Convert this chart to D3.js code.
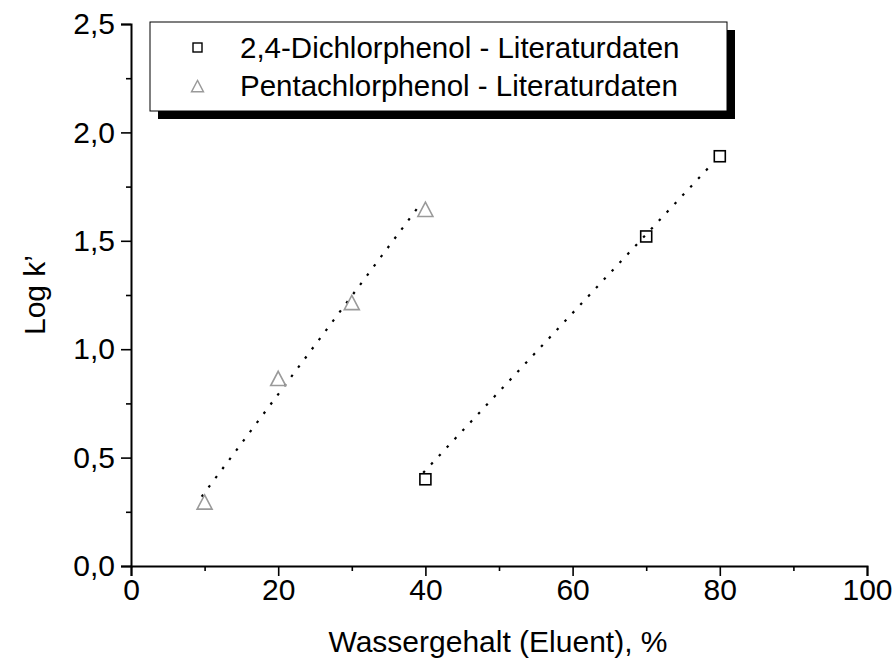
<!DOCTYPE html>
<html>
<head>
<meta charset="utf-8">
<script src="https://cdn.jsdelivr.net/npm/d3@7"></script>
<style>
  html, body { margin: 0; padding: 0; background: #fff; }
  svg { display: block; font-family: "Liberation Sans", Arial, sans-serif; }
</style>
</head>
<body>
<svg id="chart" width="892" height="658"></svg>
<script>
// Retention data: water content of the eluent (%) vs. log k'
const dichlorX = [40, 70, 80];
const dichlorY = [0.40, 1.52, 1.89];
const pentaX = [10, 20, 30, 40];
const pentaY = [0.29, 0.86, 1.21, 1.64];

// Dotted regression lines (start / end points)
const dichlorFitX = [39.7, 79.1];
const dichlorFitY = [0.43, 1.86];
const pentaFitX = [9.6, 38.9];
const pentaFitY = [0.32, 1.65];

const legendLabels = ["2,4-Dichlorphenol - Literaturdaten", "Pentachlorphenol - Literaturdaten"];
const xTicks = [0, 20, 40, 60, 80, 100];
const xMinorTicks = [10, 30, 50, 70, 90];
const yTicks = [0, 0.5, 1.0, 1.5, 2.0, 2.5];
const yMinorTicks = [0.25, 0.75, 1.25, 1.75, 2.25];

const svg = d3.select("#chart");
const plot = { left: 131, right: 867, top: 24, bottom: 566 };
const FONT = "'Liberation Sans', Arial, sans-serif";

const x = d3.scaleLinear().domain([0, 100]).range([plot.left, plot.right]);
const y = d3.scaleLinear().domain([0, 2.5]).range([plot.bottom, plot.top]);
const fmt = d => d3.format(".1f")(d).replace(".", ",");

// Axes: major ticks with labels, minor ticks without
const xAxis = svg.append("g").attr("transform", `translate(0,${plot.bottom})`)
  .call(d3.axisBottom(x).tickValues(xTicks).tickSize(10).tickPadding(3).tickFormat(d3.format("d")));
const xMinor = svg.append("g").attr("transform", `translate(0,${plot.bottom})`)
  .call(d3.axisBottom(x).tickValues(xMinorTicks).tickSize(5).tickFormat(""));
const yAxis = svg.append("g").attr("transform", `translate(${plot.left},0)`)
  .call(d3.axisLeft(y).tickValues(yTicks).tickSize(10).tickPadding(6).tickFormat(fmt));
const yMinor = svg.append("g").attr("transform", `translate(${plot.left},0)`)
  .call(d3.axisLeft(y).tickValues(yMinorTicks).tickSize(5).tickFormat(""));

[xAxis, xMinor, yAxis, yMinor].forEach(g => {
  g.select(".domain").attr("stroke", "#000").attr("stroke-width", 2);
  g.selectAll(".tick line").attr("stroke", "#000").attr("stroke-width", 1.6);
  g.selectAll(".tick text").attr("fill", "#000").style("font-size", "30px").style("font-family", FONT);
});
xMinor.select(".domain").remove();
yMinor.select(".domain").remove();

// Axis titles
svg.append("text").attr("x", 498).attr("y", 652).attr("text-anchor", "middle")
  .style("font-size", "30px").style("font-family", FONT).text("Wassergehalt (Eluent), %");
svg.append("text").attr("transform", "translate(45,295) rotate(-90)").attr("text-anchor", "middle")
  .style("font-size", "30px").style("font-family", FONT).text("Log k’");

// Dotted fit lines
const line = d3.line().x(d => x(d[0])).y(d => y(d[1]));
[[dichlorFitX, dichlorFitY], [pentaFitX, pentaFitY]].forEach(([fx, fy]) => {
  svg.append("path").datum(fx.map((v, i) => [v, fy[i]]))
    .attr("d", line).attr("fill", "none").attr("stroke", "#000")
    .attr("stroke-width", 2.2).attr("stroke-dasharray", "2.5,9");
});

// Markers
const sq = 11;
svg.selectAll(".sq").data(dichlorX.map((v, i) => [v, dichlorY[i]])).enter()
  .append("rect").attr("class", "sq")
  .attr("x", d => x(d[0]) - sq / 2).attr("y", d => y(d[1]) - sq / 2)
  .attr("width", sq).attr("height", sq)
  .attr("fill", "none").attr("stroke", "#000").attr("stroke-width", 1.6);

const tri = (cx, cy, s) => `M${cx},${cy - s * 0.55}L${cx + s / 2},${cy + s * 0.4}L${cx - s / 2},${cy + s * 0.4}Z`;
svg.selectAll(".tri").data(pentaX.map((v, i) => [v, pentaY[i]])).enter()
  .append("path").attr("class", "tri")
  .attr("d", d => tri(x(d[0]), y(d[1]), 15))
  .attr("fill", "none").attr("stroke", "#9a9a9a").attr("stroke-width", 1.6);

// Legend box with drop shadow
const lg = svg.append("g");
lg.append("rect").attr("x", 158).attr("y", 30).attr("width", 577).attr("height", 89).attr("fill", "#000");
lg.append("rect").attr("x", 150).attr("y", 22).attr("width", 577).attr("height", 89)
  .attr("fill", "#fff").attr("stroke", "#000").attr("stroke-width", 1);
lg.append("rect").attr("x", 193).attr("y", 43).attr("width", 9).attr("height", 9)
  .attr("fill", "none").attr("stroke", "#000").attr("stroke-width", 1.4);
lg.append("path").attr("d", tri(197.5, 87, 12))
  .attr("fill", "none").attr("stroke", "#9a9a9a").attr("stroke-width", 1.4);
lg.selectAll(".lt").data(legendLabels).enter().append("text")
  .attr("x", 240).attr("y", (d, i) => 58 + i * 38)
  .style("font-size", "29.5px").style("font-family", FONT).text(d => d);
</script>
</body>
</html>
